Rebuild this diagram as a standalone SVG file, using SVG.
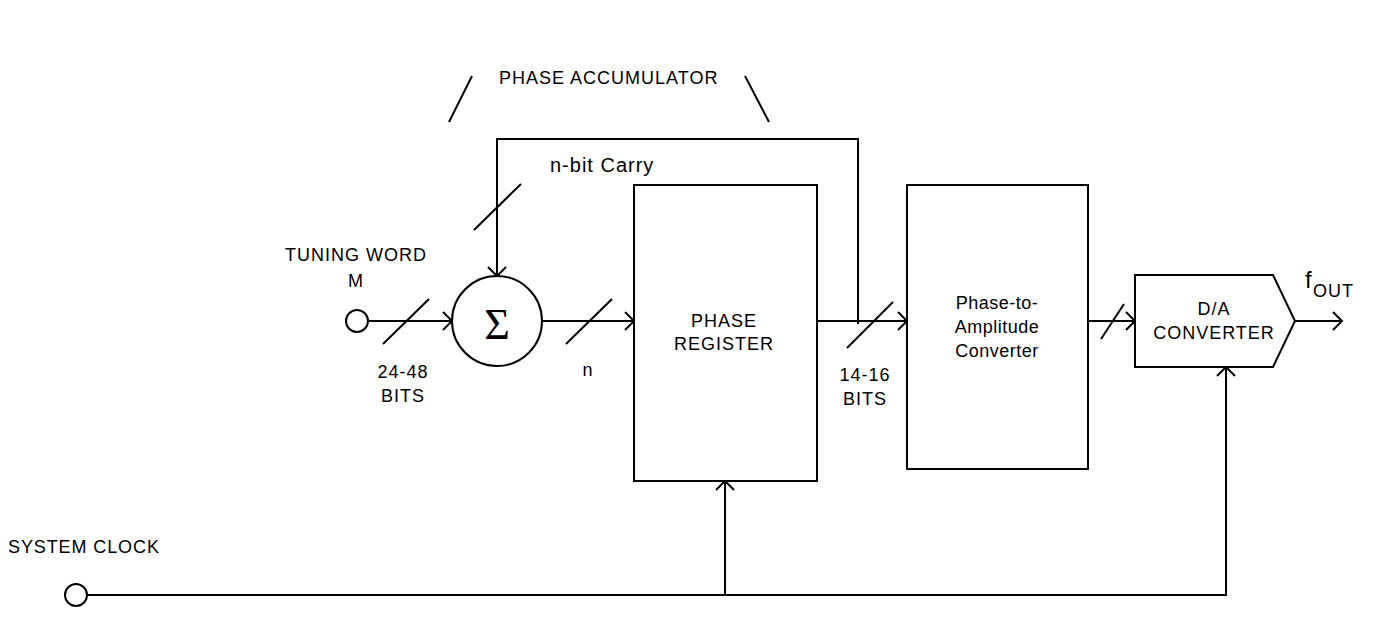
<svg xmlns="http://www.w3.org/2000/svg" width="1388" height="625" viewBox="0 0 1388 625">
<style>
.ln{fill:none;stroke:#000;stroke-width:2}
.bx{fill:#fff;stroke:#000;stroke-width:2}
.t{font-family:"Liberation Sans",Arial,sans-serif;font-size:18px;letter-spacing:1px;fill:#000}
.m{text-anchor:middle}
</style>
<defs>
<marker id="ah" markerUnits="userSpaceOnUse" markerWidth="14" markerHeight="22" viewBox="-11 -11 14 22" refX="0" refY="0" orient="auto">
<path d="M-9,-9 L0,0 L-9,9" fill="none" stroke="#000" stroke-width="2"/>
</marker>
</defs>
<rect width="1388" height="625" fill="#fff"/>
<g id="accumulator-label">
<path class="ln" d="M449,122 L472,76 M745,76 L769,122"/>
<text class="t" x="499" y="84">PHASE ACCUMULATOR</text>
</g>
<g id="connectors">
<path class="ln" d="M858,324 V139 H497 V276" marker-end="url(#ah)"/>
<path class="ln" d="M368,321 H452" marker-end="url(#ah)"/>
<path class="ln" d="M542,321 H634" marker-end="url(#ah)"/>
<path class="ln" d="M817,321 H907" marker-end="url(#ah)"/>
<path class="ln" d="M1088,321 H1135" marker-end="url(#ah)"/>
<path class="ln" d="M1295,321 H1342" marker-end="url(#ah)"/>
<path class="ln" d="M87,595 H1226 V367" marker-end="url(#ah)"/>
<path class="ln" d="M725,595 V481" marker-end="url(#ah)"/>
<path class="ln" d="M383,344 L429,299 M566,344 L612,299 M474,230 L521,184 M847,348 L893,302 M1101,339 L1124,304"/>
</g>
<g id="labels">
<text class="t" x="550" y="172" style="font-size:20px">n-bit Carry</text>
<text class="t m" x="356" y="261">TUNING WORD</text>
<text class="t m" x="356" y="287">M</text>
<text class="t m" x="403" y="378">24-48</text>
<text class="t m" x="403" y="402">BITS</text>
<text class="t m" x="588" y="376">n</text>
<text class="t m" x="865" y="381">14-16</text>
<text class="t m" x="865" y="405">BITS</text>
<text class="t" x="8" y="553" style="letter-spacing:0.9px">SYSTEM CLOCK</text>
<text class="t" x="1305" y="288" style="font-size:24px;letter-spacing:0">f</text>
<text class="t" x="1313" y="297">OUT</text>
</g>
<g id="tuning-input"><circle class="bx" cx="357" cy="321" r="11"/></g>
<g id="clock-input"><circle class="bx" cx="76" cy="595" r="11"/></g>
<g id="adder">
<circle class="bx" cx="497" cy="321" r="45"/>
<text x="497" y="339" text-anchor="middle" style="font-family:'Liberation Serif','Times New Roman',serif;font-size:44px">Σ</text>
</g>
<g id="phase-register">
<rect class="bx" x="634" y="185" width="183" height="296"/>
<text class="t m" x="724" y="327">PHASE</text>
<text class="t m" x="724" y="350">REGISTER</text>
</g>
<g id="phase-to-amplitude">
<rect class="bx" x="907" y="185" width="181" height="284"/>
<text class="t m" x="997" y="309" style="letter-spacing:0.5px">Phase-to-</text>
<text class="t m" x="997" y="333" style="letter-spacing:0.5px">Amplitude</text>
<text class="t m" x="997" y="357" style="letter-spacing:0.5px">Converter</text>
</g>
<g id="da-converter">
<polygon class="bx" points="1135,275 1273,275 1295,321 1273,367 1135,367"/>
<text class="t m" x="1214" y="315">D/A</text>
<text class="t m" x="1214" y="339">CONVERTER</text>
</g>
</svg>
